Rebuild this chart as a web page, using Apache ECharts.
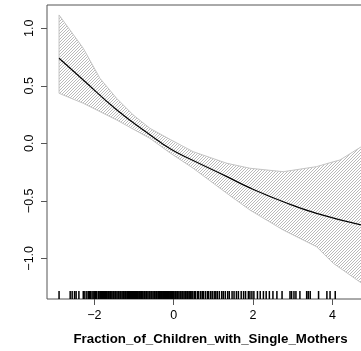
<!DOCTYPE html>
<html>
<head>
<meta charset="utf-8">
<script src="https://cdn.jsdelivr.net/npm/echarts@6/dist/echarts.min.js"></script>
<style>
  html, body { margin: 0; padding: 0; background: #fff; }
  #chart { width: 361px; height: 351px; }
</style>
</head>
<body>
<div id="chart"></div>
<script>
// Smooth term estimate for Fraction_of_Children_with_Single_Mothers
const fitX = [-2.89, -2.28, -1.44, -0.60, -0.09, 0.49, 1.34, 1.92, 2.76, 3.60, 4.75];
const fitY = [0.739, 0.550, 0.292, 0.075, -0.048, -0.150, -0.290, -0.388, -0.508, -0.609, -0.712];

// Upper and lower confidence limits
const upperX = [-2.89, -2.28, -1.86, -1.44, -1.02, -0.60, -0.09, 0.49, 1.34, 1.92, 2.76, 3.60, 3.94, 4.19, 4.75];
const upperY = [1.116, 0.826, 0.565, 0.391, 0.246, 0.130, 0.033, -0.073, -0.174, -0.217, -0.247, -0.203, -0.169, -0.145, -0.025];
const lowerX = [-2.89, -2.28, -1.44, -0.60, -0.09, 0.49, 1.34, 1.92, 2.76, 3.60, 4.02, 4.75];
const lowerY = [0.435, 0.348, 0.203, 0.043, -0.084, -0.217, -0.435, -0.580, -0.754, -0.899, -1.043, -1.220];

// Observed covariate values (rug)
const rugX = [
  -2.89, -2.61, -2.56, -2.50, -2.46, -2.39, -2.28, -2.24, -2.19,
  -2.15, -2.12, -2.10, -2.06, -2.03, -1.99, -1.97, -1.94, -1.90, -1.88, -1.85, -1.82, -1.80,
  -1.77, -1.74, -1.72, -1.69, -1.66, -1.64, -1.61, -1.59, -1.56, -1.53, -1.51, -1.48, -1.46,
  -1.43, -1.40, -1.38, -1.35, -1.33, -1.30, -1.27, -1.25, -1.22, -1.20, -1.17, -1.14, -1.12,
  -1.09, -1.07, -1.04, -1.01, -0.99, -0.96, -0.94, -0.91, -0.88, -0.86, -0.83, -0.81, -0.78,
  -0.75, -0.73, -0.70, -0.68, -0.65, -0.62, -0.60, -0.57, -0.55, -0.52, -0.49, -0.47, -0.44,
  -0.42, -0.39, -0.36, -0.34, -0.31, -0.29, -0.26, -0.23, -0.21, -0.18, -0.16, -0.13, -0.10,
  -0.08, -0.05, -0.03, 0.00, 0.03, 0.05, 0.08, 0.10, 0.13, 0.16, 0.18, 0.21, 0.23, 0.26, 0.29,
  0.31, 0.34, 0.36, 0.39, 0.42, 0.44,
  0.48, 0.52, 0.55, 0.60, 0.63, 0.68, 0.72, 0.75, 0.80, 0.85, 0.88, 0.93, 0.97, 1.02, 1.06,
  1.10, 1.15, 1.21, 1.25, 1.30, 1.36, 1.40, 1.47, 1.52, 1.58, 1.63, 1.70, 1.76, 1.81,
  1.88, 1.92, 1.97, 2.02, 2.11, 2.18, 2.26, 2.33, 2.41, 2.50, 2.60, 2.73, 2.93, 2.97, 3.03,
  3.08, 3.18, 3.35, 3.39, 3.44, 3.65, 3.86, 3.94, 4.07
];

const xTicks = [-2, 0, 2, 4];
const yTicks = [-1.0, -0.5, 0.0, 0.5, 1.0];
const xTitle = 'Fraction_of_Children_with_Single_Mothers';

const X_MIN = -3.194, X_MAX = 5.4;
const Y_MIN = -1.354, Y_MAX = 1.2026;

// Diagonal hatch tile for the confidence band
function hatchTile() {
  const n = 3;
  const c = document.createElement('canvas');
  c.width = n; c.height = n;
  const ctx = c.getContext('2d');
  const img = ctx.createImageData(n, n);
  for (let i = 0; i < n * n; i++) {
    img.data[i * 4] = 255; img.data[i * 4 + 1] = 255; img.data[i * 4 + 2] = 255; img.data[i * 4 + 3] = 255;
  }
  for (let x = 0; x < n; x++) {
    const y = n - 1 - x;
    const k = (y * n + x) * 4;
    img.data[k] = 185; img.data[k + 1] = 185; img.data[k + 2] = 185;
  }
  ctx.putImageData(img, 0, 0);
  return c;
}
const hatch = hatchTile();

const fmt = v => {
  const s = Math.abs(v).toFixed(1);
  return v < 0 ? '\u2212' + s : s;
};

const chart = echarts.init(document.getElementById('chart'), null, { renderer: 'canvas' });
const FONT = '"Liberation Sans", Arial, Helvetica, sans-serif';

chart.setOption({
  animation: false,
  backgroundColor: '#ffffff',
  grid: {
    left: 47, top: 5, width: 341, height: 294,
    outerBoundsMode: 'none', containLabel: false,
    show: true, borderColor: '#555', borderWidth: 1, backgroundColor: 'transparent'
  },
  xAxis: {
    type: 'value', min: X_MIN, max: X_MAX,
    axisLine: { show: false, onZero: false },
    splitLine: { show: false },
    axisTick: { show: true, customValues: xTicks, length: 6, lineStyle: { color: '#555', width: 1 } },
    axisLabel: {
      customValues: xTicks, margin: 10, color: '#000',
      fontFamily: FONT, fontSize: 12.5,
      formatter: v => (v < 0 ? '\u2212' + Math.abs(v) : String(v))
    }
  },
  yAxis: {
    type: 'value', min: Y_MIN, max: Y_MAX,
    axisLine: { show: false, onZero: false },
    splitLine: { show: false },
    axisTick: { show: true, customValues: yTicks, length: 6, lineStyle: { color: '#555', width: 1 } },
    axisLabel: {
      customValues: yTicks, margin: 11, rotate: 90, color: '#000',
      fontFamily: FONT, fontSize: 12.5, formatter: fmt
    }
  },
  graphic: [{
    type: 'text', x: 210.5, y: 339,
    style: {
      text: xTitle, fill: '#000', font: 'bold 13.3px ' + FONT,
      textAlign: 'center', textVerticalAlign: 'middle'
    }
  }],
  series: [
    {
      type: 'custom',
      data: [0],
      silent: true,
      z: 1,
      renderItem: (params, api) => {
        const pts = [];
        for (let i = 0; i < upperX.length; i++) pts.push(api.coord([upperX[i], upperY[i]]));
        for (let i = lowerX.length - 1; i >= 0; i--) pts.push(api.coord([lowerX[i], lowerY[i]]));
        return {
          type: 'polygon',
          shape: { points: pts },
          style: { fill: { image: hatch, repeat: 'repeat' }, stroke: '#c4c4c4', lineWidth: 1 }
        };
      }
    },
    {
      type: 'line',
      data: fitX.map((x, i) => [x, fitY[i]]),
      smooth: 0.5,
      showSymbol: false,
      silent: true,
      z: 3,
      lineStyle: { color: '#000', width: 1.2 }
    },
    {
      type: 'scatter',
      data: rugX.map(x => [x, Y_MIN]),
      symbol: 'rect',
      symbolSize: [1.5, 8],
      symbolOffset: [0, -4],
      silent: true,
      z: 4,
      itemStyle: { color: '#000', opacity: 1 }
    }
  ]
});
</script>
</body>
</html>
